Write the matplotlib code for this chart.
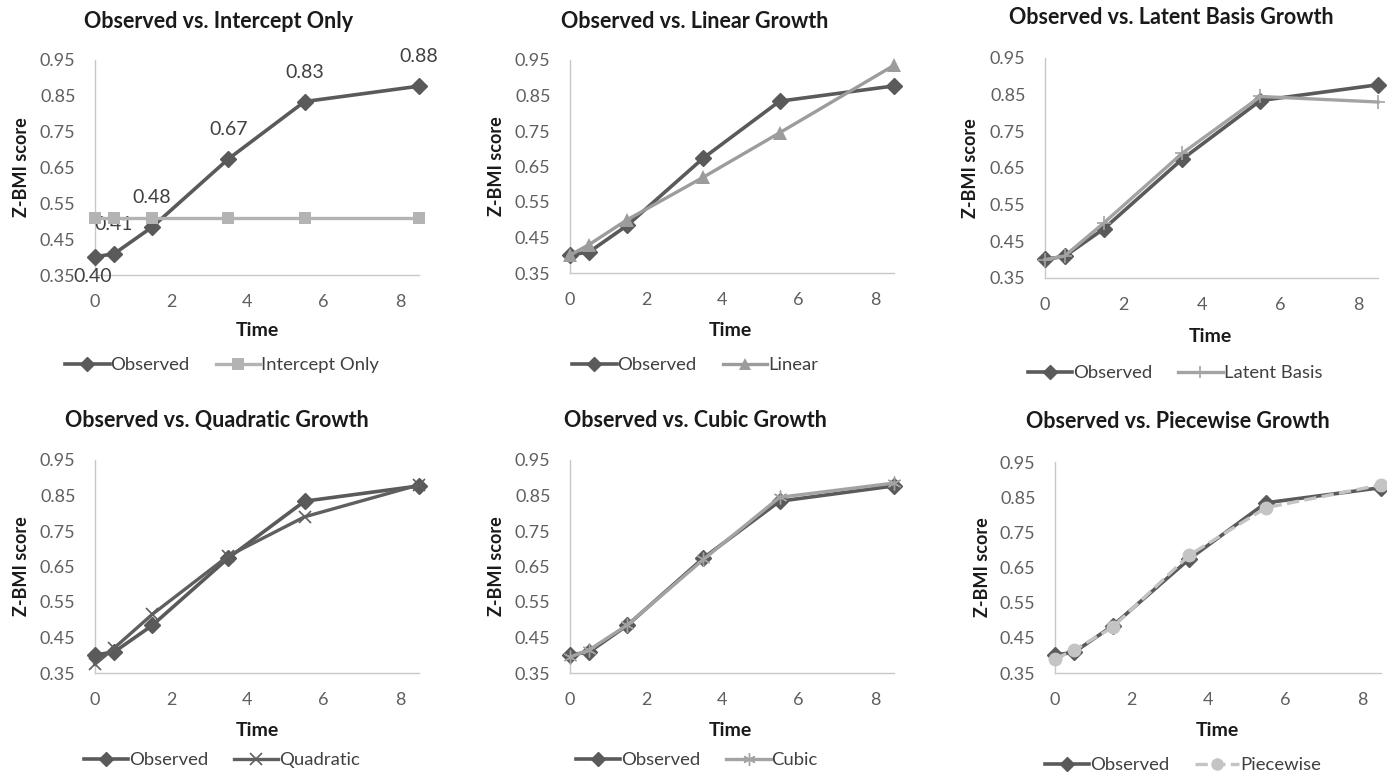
import numpy as np
import matplotlib.pyplot as plt
from matplotlib.lines import Line2D

plt.rcParams['font.family'] = ['Lato', 'DejaVu Sans']

time = [0, 0.5, 1.5, 3.5, 5.5, 8.5]
observed = [0.401, 0.409, 0.484, 0.674, 0.834, 0.877]
intercept_only = [0.51, 0.51, 0.51, 0.51, 0.51, 0.51]
linear = [0.40, 0.43, 0.50, 0.62, 0.745, 0.935]
latent_basis = [0.40, 0.41, 0.50, 0.69, 0.845, 0.83]
quadratic = [0.375, 0.42, 0.515, 0.68, 0.79, 0.88]
cubic = [0.395, 0.415, 0.485, 0.67, 0.845, 0.885]
piecewise = [0.39, 0.415, 0.48, 0.685, 0.82, 0.885]

yticks = [0.35, 0.45, 0.55, 0.65, 0.75, 0.85, 0.95]
xticks = [0, 2, 4, 6, 8]

W, H = 1387, 775
fig = plt.figure(figsize=(W / 100, H / 100), dpi=100)

OBS = '#5a5a5a'
TICK = '#5f5f5f'


def px(l, t, r, b):
    return [l / W, 1 - b / H, (r - l) / W, (b - t) / H]


# (axes box in px, title, title centre, ylabel x, xlabel centre, legend centre)
panels = [
    dict(box=(95, 60, 419, 275), title='Observed vs. Intercept Only', tc=(219, 21),
         yl=22, xl=(257, 331), lg=(222, 365),
         model=intercept_only, name='Intercept Only', color='#b3b3b3', marker='s', ms=9, ls='-', mew=0),
    dict(box=(570, 60, 894, 273), title='Observed vs. Linear Growth', tc=(695, 21),
         yl=497, xl=(730, 331), lg=(695, 365),
         model=linear, name='Linear', color='#9c9c9c', marker='^', ms=10, ls='-', mew=0),
    dict(box=(1045, 58, 1378, 278), title='Observed vs. Latent Basis Growth', tc=(1171, 18),
         yl=970, xl=(1210, 337), lg=(1175, 373),
         model=latent_basis, name='Latent Basis', color='#a3a3a3', marker='+', ms=10, ls='-', mew=1.2),
    dict(box=(95, 460, 419, 673), title='Observed vs. Quadratic Growth', tc=(217, 420),
         yl=22, xl=(257, 730), lg=(222, 760),
         model=quadratic, name='Quadratic', color='#5f5f5f', marker='x', ms=9, ls='-', mew=1.2),
    dict(box=(570, 460, 894, 673), title='Observed vs. Cubic Growth', tc=(695, 420),
         yl=497, xl=(730, 730), lg=(697, 760),
         model=cubic, name='Cubic', color='#a3a3a3', marker=(6, 2, 0), ms=10, ls='-', mew=1.0),
    dict(box=(1055, 462, 1381, 673), title='Observed vs. Piecewise Growth', tc=(1178, 422),
         yl=983, xl=(1217, 730), lg=(1183, 765),
         model=piecewise, name='Piecewise', color='#c4c4c4', marker='o', ms=10, ls='--', mew=0),
]

for i, p in enumerate(panels):
    ax = fig.add_axes(px(*p['box']))
    ax.set_xlim(0, 8.5)
    ax.set_ylim(0.35, 0.95)
    ax.set_xticks(xticks)
    ax.set_yticks(yticks)
    ax.set_yticklabels([f'{v:.2f}' for v in yticks])
    ax.tick_params(length=0, labelsize=13, colors=TICK, pad=14)
    ax.tick_params(axis='y', pad=14)
    for s in ['top', 'right']:
        ax.spines[s].set_visible(False)
    for s in ['left', 'bottom']:
        ax.spines[s].set_color('#c8c8c8')
        ax.spines[s].set_linewidth(1)

    ax.plot(time, observed, color=OBS, lw=2.6, marker='D', ms=8,
            mec=OBS, mfc=OBS, clip_on=False, zorder=3)
    ax.plot(time, p['model'], color=p['color'], lw=2.4, ls=p['ls'],
            marker=p['marker'], ms=p['ms'], mfc=p['color'], mec=p['color'],
            mew=p['mew'], clip_on=False, zorder=4)

    if i == 0:
        for j, (t, v) in enumerate(zip(time, observed)):
            dy = -14 if j == 0 else 21
            ax.annotate(f'{v:.2f}', (t, v), xytext=(-2 if j == 0 else 0, dy),
                        textcoords='offset points', ha='center', va='center',
                        fontsize=14, color='#404040')

    fig.text(p['tc'][0] / W, 1 - p['tc'][1] / H, p['title'], ha='center', va='center',
             fontsize=15.5, fontweight='bold', color='#1a1a1a')
    fig.text(p['yl'] / W, 1 - (p['box'][1] + p['box'][3]) / 2 / H, 'Z-BMI score',
             rotation=90, ha='center', va='center', fontsize=13, fontweight='bold',
             color='#1a1a1a')
    fig.text(p['xl'][0] / W, 1 - p['xl'][1] / H, 'Time', ha='center', va='center',
             fontsize=14, fontweight='bold', color='#1a1a1a')

    h1 = Line2D([], [], color=OBS, lw=2.6, marker='D', ms=7, mfc=OBS, mec=OBS)
    h2 = Line2D([], [], color=p['color'], lw=2.4, ls=p['ls'], marker=p['marker'],
                ms=p['ms'] - 1, mfc=p['color'], mec=p['color'], mew=p['mew'])
    ax.legend([h1, h2], ['Observed', p['name']], loc='center',
              bbox_to_anchor=(p['lg'][0] / W, 1 - p['lg'][1] / H),
              bbox_transform=fig.transFigure, ncol=2, frameon=False,
              fontsize=13.3, handlelength=2.4, handletextpad=0.05, columnspacing=1.4,
              labelcolor='#404040', borderpad=0)

fig.savefig('out.png', dpi=100, facecolor='white')
